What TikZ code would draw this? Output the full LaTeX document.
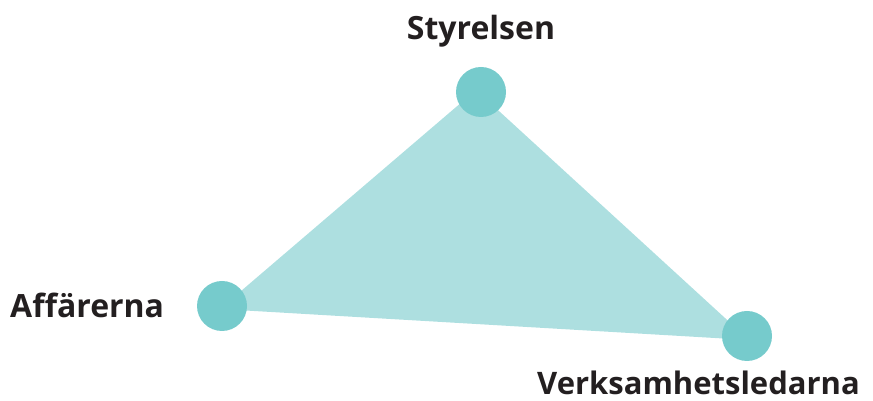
\documentclass[tikz,border=0pt]{standalone}
\usepackage{fontspec}
\setmainfont{Open Sans}
\usetikzlibrary{positioning,backgrounds}
\definecolor{TealLight}{HTML}{ADDFE0}
\definecolor{TealDot}{HTML}{76CBCC}
\definecolor{TextDark}{HTML}{231F20}

\begin{document}
\begin{tikzpicture}[x=1pt,y=1pt,
    dot/.style={circle,fill=TealDot,minimum size=50pt,inner sep=0pt},
    lbl/.style={font=\fontsize{32}{38}\selectfont\bfseries,text=TextDark,inner sep=0pt}]
  \useasboundingbox (0,0) rectangle (873,401);
  % roles
  \node[dot] (sty) at (481,309) {};
  \node[dot] (aff) at (222,95) {};
  \node[dot] (vl) at (747,65) {};
  \begin{scope}[on background layer]
    \fill[TealLight] ([xshift=-5pt,yshift=2pt]sty.center) -- ([xshift=-2pt,yshift=-3pt]aff.center)
      -- ([xshift=2pt,yshift=-4pt]vl.center) -- cycle;
  \end{scope}
  % labels
  \node[lbl,anchor=base] (styl) at (481,361) {Styrelsen};
  \node[lbl,anchor=base west] (affl) at (10,83) {Affärerna};
  \node[lbl,anchor=base east,font=\fontsize{31}{37}\selectfont\bfseries] (vll) at (860,6) {Verksamhetsledarna};
\end{tikzpicture}
\end{document}
